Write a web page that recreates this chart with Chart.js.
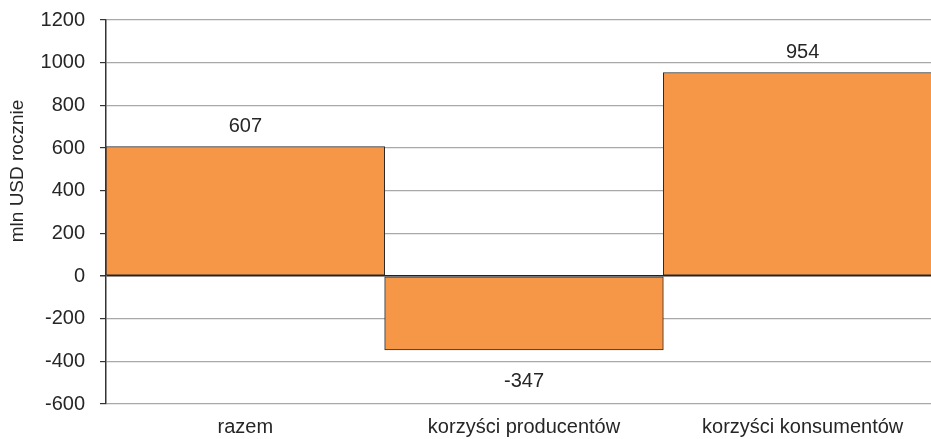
<!DOCTYPE html>
<html>
<head>
<meta charset="utf-8">
<script src="https://cdn.jsdelivr.net/npm/chart.js@4/dist/chart.umd.min.js"></script>
<style>
  html, body { margin: 0; padding: 0; background: #fff; overflow: hidden; }
  #wrap { width: 942px; height: 439px; }
</style>
</head>
<body>
<div id="wrap"><canvas id="effect-chart" width="942" height="439"></canvas></div>
<script>
const categories = ["razem", "korzyści producentów", "korzyści konsumentów"];
const values = [607, -347, 954];
const yTicks = [-600, -400, -200, 0, 200, 400, 600, 800, 1000, 1200];
const yTitle = "mln USD rocznie";

const textColor = "#262626";
const fontFamily = "'Liberation Sans', Arial, sans-serif";

// value labels above / below bars
const valueLabels = {
  id: "valueLabels",
  afterDatasetsDraw(chart) {
    const { ctx } = chart;
    const meta = chart.getDatasetMeta(0);
    ctx.save();
    ctx.font = "20px " + fontFamily;
    ctx.fillStyle = textColor;
    ctx.textAlign = "center";
    ctx.textBaseline = "middle";
    meta.data.forEach((bar, i) => {
      const v = values[i];
      const y = v >= 0 ? bar.y - 20 : bar.y + 31;
      ctx.fillText(String(v), bar.x, y);
    });
    ctx.restore();
  },
};

// y axis title, placed like the original (not centred on the axis)
const axisTitle = {
  id: "axisTitle",
  afterDraw(chart) {
    const { ctx } = chart;
    ctx.save();
    ctx.translate(18, 171);
    ctx.rotate(-Math.PI / 2);
    ctx.font = "19px " + fontFamily;
    ctx.fillStyle = textColor;
    ctx.textAlign = "center";
    ctx.textBaseline = "middle";
    ctx.fillText(yTitle, 0, 0);
    ctx.restore();
  },
};

new Chart(document.getElementById("effect-chart"), {
  type: "bar",
  data: {
    labels: categories,
    datasets: [
      {
        data: values,
        backgroundColor: "#F69748",
        borderColor: "#2b2b2b",
        borderWidth: 1,
        borderSkipped: false,
        barPercentage: 1,
        categoryPercentage: 1,
      },
    ],
  },
  options: {
    responsive: false,
    animation: false,
    layout: { padding: { top: 20, right: 0, bottom: 0, left: 0 } },
    plugins: {
      legend: { display: false },
      tooltip: { enabled: false },
    },
    scales: {
      x: {
        grid: { display: false, drawTicks: false },
        border: { display: false },
        ticks: {
          color: textColor,
          font: { family: fontFamily, size: 20 },
          padding: 11,
          maxRotation: 0,
        },
        afterFit(scale) {
          scale.height = 35;
          scale.paddingLeft = 0;
          scale.paddingRight = 0;
        },
      },
      y: {
        min: -600,
        max: 1200,
        afterBuildTicks(scale) {
          scale.ticks = yTicks.map((v) => ({ value: v }));
        },
        grid: {
          color: (c) => (c.tick && c.tick.value === 0 ? "#222" : "#a8a8a8"),
          lineWidth: (c) => (c.tick && c.tick.value === 0 ? 1.5 : 1.2),
          tickColor: "#333",
          tickLength: 6,
        },
        border: { display: true, color: "#333", width: 1.5 },
        ticks: {
          color: textColor,
          font: { family: fontFamily, size: 20 },
          padding: 15,
          callback: (v) => String(v),
        },
        afterFit(scale) {
          scale.width = 106;
          scale.paddingTop = 0;
          scale.paddingBottom = 0;
        },
      },
    },
  },
  plugins: [valueLabels, axisTitle],
});
</script>
</body>
</html>
